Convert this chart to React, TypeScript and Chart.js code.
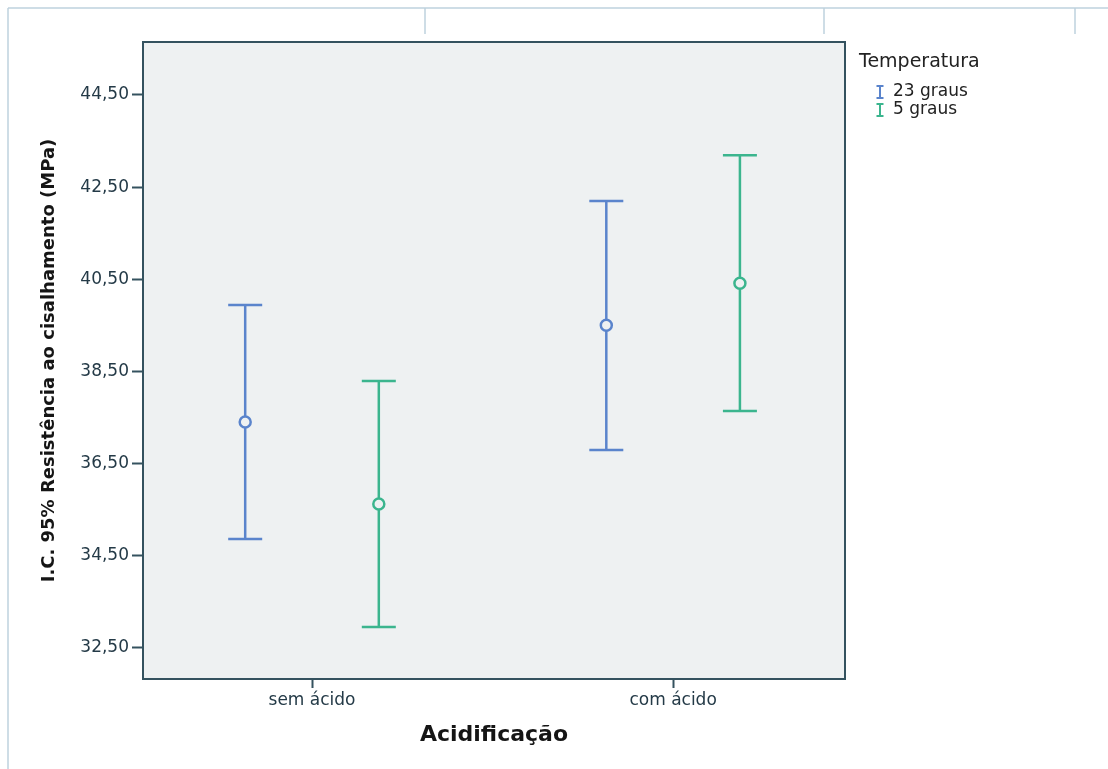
import React, { useEffect, useRef } from "react";
import { Chart, registerables } from "chart.js";

Chart.register(...registerables);

const categories = ["sem ácido", "com ácido"];
const seriesNames = ["23 graus", "5 graus"];
const seriesColors = ["#5a84cc", "#3bb58e"];
const means23 = [37.4, 39.5];
const lower23 = [34.86, 36.79];
const upper23 = [39.94, 42.2];
const means5 = [35.62, 40.41];
const lower5 = [32.95, 37.64];
const upper5 = [38.29, 43.19];
const yTicks = [32.5, 34.5, 36.5, 38.5, 40.5, 42.5, 44.5];
const groupOffsets = [-0.185, 0.185];

const seriesMeans = [means23, means5];
const seriesLower = [lower23, lower5];
const seriesUpper = [upper23, upper5];

const FONT = "'DejaVu Sans', sans-serif";
const AXIS_COLOR = "#34525f";
const PLOT_BG = "#eef1f2";

const decorPlugin = {
  id: "decor",
  beforeDraw(chart: any) {
    const { ctx, chartArea } = chart;
    ctx.save();
    ctx.fillStyle = "#ffffff";
    ctx.fillRect(0, 0, chart.width, chart.height);
    // screenshot frame lines
    ctx.strokeStyle = "#bfd2de";
    ctx.lineWidth = 1.5;
    ctx.beginPath();
    ctx.moveTo(8, 8);
    ctx.lineTo(chart.width, 8);
    ctx.moveTo(8, 8);
    ctx.lineTo(8, chart.height);
    [425, 824, 1075].forEach((x) => {
      ctx.moveTo(x, 8);
      ctx.lineTo(x, 34);
    });
    ctx.stroke();
    ctx.fillStyle = PLOT_BG;
    ctx.fillRect(chartArea.left, chartArea.top, chartArea.right - chartArea.left, chartArea.bottom - chartArea.top);
    ctx.restore();
  },
  beforeDatasetsDraw(chart: any) {
    const { ctx, scales } = chart;
    const xs = scales.x;
    const ys = scales.y;
    ctx.save();
    chart.data.datasets.forEach((ds: any, s: number) => {
      ctx.strokeStyle = seriesColors[s];
      ctx.lineWidth = 2.5;
      ds.data.forEach((pt: any, i: number) => {
        const x = xs.getPixelForValue(pt.x);
        const yHi = ys.getPixelForValue(seriesUpper[s][i]);
        const yLo = ys.getPixelForValue(seriesLower[s][i]);
        const half = 17;
        ctx.beginPath();
        ctx.moveTo(x, yHi);
        ctx.lineTo(x, yLo);
        ctx.moveTo(x - half, yHi);
        ctx.lineTo(x + half, yHi);
        ctx.moveTo(x - half, yLo);
        ctx.lineTo(x + half, yLo);
        ctx.stroke();
      });
    });
    ctx.restore();
  },
  afterDraw(chart: any) {
    const { ctx, chartArea } = chart;
    ctx.save();
    ctx.strokeStyle = AXIS_COLOR;
    ctx.lineWidth = 2;
    ctx.strokeRect(chartArea.left, chartArea.top, chartArea.right - chartArea.left, chartArea.bottom - chartArea.top);
    // legend
    const lx = chartArea.right + 14;
    ctx.fillStyle = "#222";
    ctx.textBaseline = "middle";
    ctx.textAlign = "left";
    ctx.font = `19px ${FONT}`;
    ctx.fillText("Temperatura", lx, 62);
    ctx.font = `17px ${FONT}`;
    seriesNames.forEach((name, s) => {
      const y = 92 + s * 18;
      const ix = lx + 21;
      ctx.strokeStyle = seriesColors[s];
      ctx.lineWidth = 2;
      ctx.beginPath();
      ctx.moveTo(ix, y - 6);
      ctx.lineTo(ix, y + 6);
      ctx.moveTo(ix - 3.5, y - 6);
      ctx.lineTo(ix + 3.5, y - 6);
      ctx.moveTo(ix - 3.5, y + 6);
      ctx.lineTo(ix + 3.5, y + 6);
      ctx.stroke();
      ctx.fillStyle = "#222";
      ctx.fillText(name, ix + 13, y);
    });
    ctx.restore();
  },
};

export default function App() {
  const ref = useRef<HTMLCanvasElement | null>(null);

  useEffect(() => {
    if (!ref.current) return;
    const datasets = seriesNames.map((name, s) => ({
      label: name,
      data: categories.map((_, i) => ({ x: i + 1 + groupOffsets[s], y: seriesMeans[s][i] })),
      borderColor: seriesColors[s],
      backgroundColor: PLOT_BG,
      pointRadius: 5.5,
      pointBorderWidth: 2.5,
      pointStyle: "circle",
      showLine: false,
    }));
    const chart = new Chart(ref.current, {
      type: "scatter",
      data: { datasets },
      plugins: [decorPlugin],
      options: {
        animation: false,
        responsive: false,
        devicePixelRatio: 1,
        layout: { padding: { top: 42, right: 263, bottom: 0, left: 0 } },
        plugins: { legend: { display: false }, tooltip: { enabled: false } },
        scales: {
          x: {
            type: "linear",
            min: 0.532,
            max: 2.476,
            afterBuildTicks: (axis: any) => {
              axis.ticks = categories.map((_, i) => ({ value: i + 1 }));
            },
            afterFit: (scale: any) => {
              scale.height = 90;
            },
            ticks: {
              callback: (v: any) => categories[Math.round(Number(v)) - 1] ?? "",
              font: { family: FONT, size: 17 },
              color: "#243a47",
              padding: 2,
              maxRotation: 0,
            },
            grid: { drawOnChartArea: false, drawTicks: true, tickLength: 9, tickColor: AXIS_COLOR, tickWidth: 2 },
            border: { display: true, color: AXIS_COLOR, width: 2 },
            title: {
              display: true,
              text: "Acidificação",
              font: { family: FONT, size: 22, weight: "bold" },
              color: "#151515",
              padding: { top: 0, bottom: 21 },
            },
          },
          y: {
            type: "linear",
            min: 31.82,
            max: 45.65,
            afterBuildTicks: (axis: any) => {
              axis.ticks = yTicks.map((v) => ({ value: v }));
            },
            afterFit: (scale: any) => {
              scale.width = 143;
            },
            ticks: {
              callback: (v: any) => Number(v).toFixed(2).replace(".", ","),
              font: { family: FONT, size: 17 },
              color: "#243a47",
              padding: 3,
            },
            grid: { drawOnChartArea: false, drawTicks: true, tickLength: 11, tickColor: AXIS_COLOR, tickWidth: 2 },
            border: { display: true, color: AXIS_COLOR, width: 2 },
            title: {
              display: true,
              text: "I.C. 95% Resistência ao cisalhamento (MPa)",
              font: { family: FONT, size: 18, weight: "bold" },
              color: "#151515",
              padding: { top: 39, bottom: 0 },
            },
          },
        },
      },
    } as any);
    return () => chart.destroy();
  }, []);

  return (
    <div style={{ position: "fixed", left: 0, top: 0, width: 1108, height: 769, background: "#fff" }}>
      <canvas ref={ref} width={1108} height={769} style={{ display: "block" }} />
    </div>
  );
}
